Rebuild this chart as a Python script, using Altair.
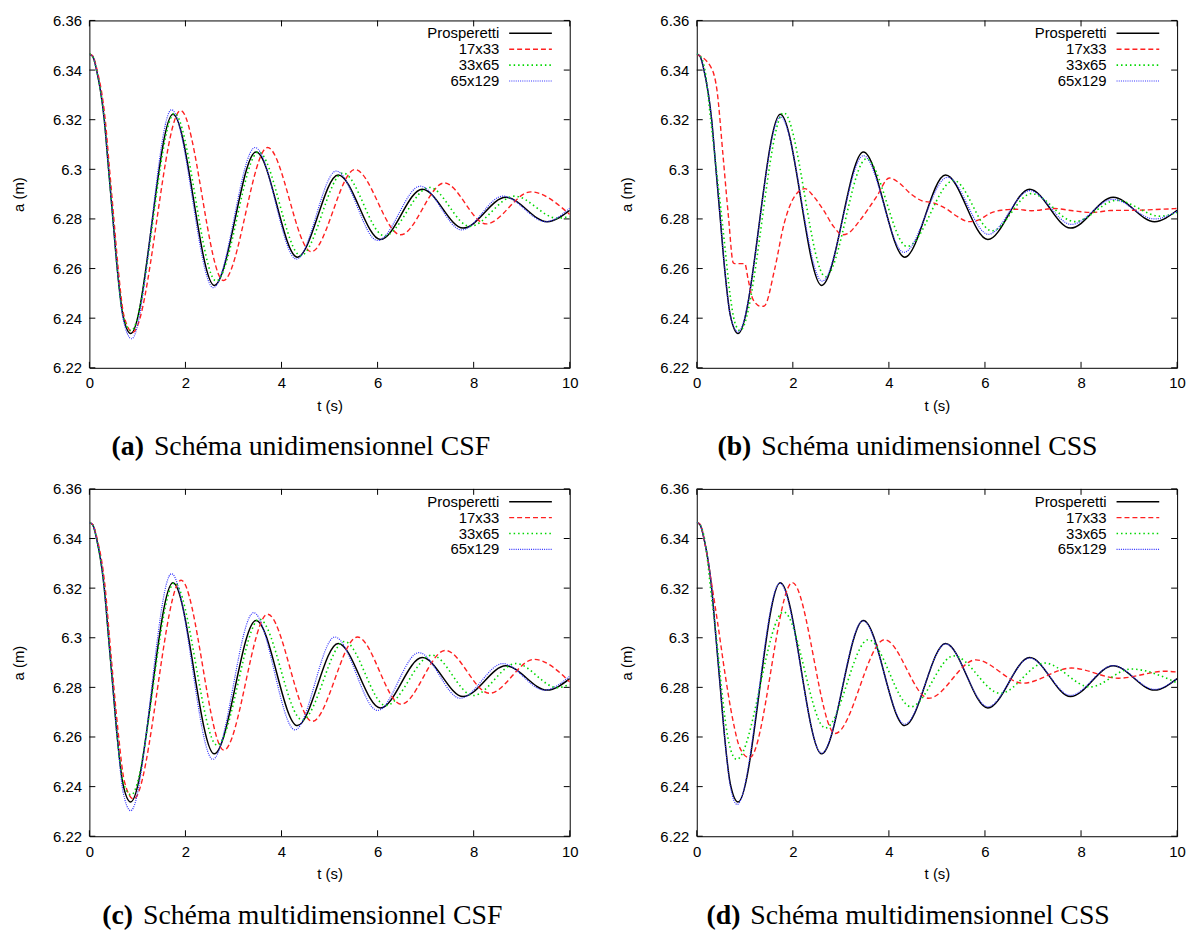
import altair as alt
import pandas as pd

# ---------------- data ----------------
SERIES = ["Prosperetti", "17x33", "33x65", "65x129"]
COLORS = ["#000000", "#ff2020", "#00d800", "#3030ff"]
DASHES = [None, [5, 3], [1.5, 3], [1, 1.2]]
WIDTHS = [1.5, 1.4, 1.6, 1.2]

X_TICKS = [0, 2, 4, 6, 8, 10]
Y_TICKS = [6.22, 6.24, 6.26, 6.28, 6.30, 6.32, 6.34, 6.36]

LABELS = ["(a)", "(b)", "(c)", "(d)"]
CAPTIONS = ["Schéma unidimensionnel CSF", "Schéma unidimensionnel CSS",
            "Schéma multidimensionnel CSF", "Schéma multidimensionnel CSS"]

# Prosperetti (analytical) - identical in all panels
PROS_T = [0, 0.07, 0.15, 0.31, 0.40, 0.49, 0.58, 0.70, 0.86, 1.74, 2.60, 3.47, 4.33, 5.18, 6.06, 6.93, 7.78, 8.67, 9.53, 10]
PROS_V = [6.3465, 6.3455, 6.340, 6.320, 6.300, 6.280, 6.260, 6.241, 6.2338, 6.3222, 6.2532, 6.3070, 6.2646, 6.2977, 6.2717, 6.2920, 6.2763, 6.2887, 6.2789, 6.2835]

# (a) unidimensionnel CSF
A_17_T = [0, 0.07, 0.16, 0.33, 0.42, 0.51, 0.60, 0.72, 0.90, 1.90, 2.79, 3.71, 4.62, 5.53, 6.48, 7.39, 8.26, 9.19, 10]
A_17_V = [6.3465, 6.3457, 6.340, 6.320, 6.300, 6.280, 6.260, 6.241, 6.2343, 6.3237, 6.2552, 6.3088, 6.2668, 6.2999, 6.2736, 6.2945, 6.2780, 6.2909, 6.2818]
A_33_T = [0, 0.07, 0.15, 0.31, 0.40, 0.49, 0.58, 0.70, 0.87, 1.77, 2.64, 3.52, 4.40, 5.28, 6.14, 7.08, 7.92, 8.85, 9.74, 10]
A_33_V = [6.3465, 6.3455, 6.340, 6.320, 6.300, 6.280, 6.260, 6.241, 6.2350, 6.3225, 6.2550, 6.3070, 6.2652, 6.2985, 6.2732, 6.2927, 6.2770, 6.2892, 6.2803, 6.2810]
A_65_T = [0, 0.07, 0.15, 0.31, 0.40, 0.49, 0.58, 0.70, 0.88, 1.71, 2.58, 3.45, 4.31, 5.14, 6.00, 6.89, 7.75, 8.61, 9.50, 10]
A_65_V = [6.3465, 6.3455, 6.340, 6.320, 6.300, 6.280, 6.260, 6.240, 6.2317, 6.3240, 6.2523, 6.3088, 6.2638, 6.2993, 6.2713, 6.2932, 6.2756, 6.2892, 6.2789, 6.2843]

# (b) unidimensionnel CSS
B_17_T = [0, 0.30, 0.42, 0.55, 0.66, 0.76, 0.79, 1.00, 1.07, 1.17, 1.34, 1.41, 1.62, 1.82, 2.03, 2.25, 2.44, 2.64, 2.85, 3.03,
          3.15, 3.40, 3.74, 4.01, 4.22, 4.45, 4.69, 4.92, 5.20, 5.43, 5.67, 5.87, 6.10, 6.34, 6.65, 6.97, 7.44, 7.83, 8.23, 8.62,
          9.09, 10]
B_17_V = [6.3463, 6.341, 6.332, 6.3048, 6.2809, 6.2623, 6.2620, 6.2620, 6.2556, 6.2476, 6.2447, 6.2450, 6.2596, 6.2782, 6.2889, 6.2922,
          6.2889, 6.2835, 6.2769, 6.2736, 6.2742, 6.2795, 6.2889, 6.2965, 6.2944, 6.2902, 6.2873, 6.2865, 6.2840, 6.2809, 6.2789, 6.2796,
          6.2822, 6.2835, 6.2839, 6.2833, 6.2842, 6.2833, 6.2826, 6.2834, 6.2835, 6.2842]
B_33_T = [0, 0.07, 0.17, 0.29, 0.39, 0.49, 0.59, 0.69, 0.79, 0.90, 1.81, 2.68, 3.53, 4.38, 5.35, 6.14, 6.97, 7.87, 8.74, 9.65, 10]
B_33_V = [6.3465, 6.3457, 6.340, 6.320, 6.303, 6.286, 6.268, 6.250, 6.2385, 6.2350, 6.3228, 6.2567, 6.3042, 6.2689, 6.2955, 6.2752, 6.2902, 6.2789, 6.2875, 6.2811, 6.2826]
B_65_T = [0, 0.07, 0.15, 0.31, 0.40, 0.49, 0.58, 0.70, 0.86, 1.74, 2.61, 3.47, 4.31, 5.22, 6.07, 6.93, 7.80, 8.66, 9.53, 10]
B_65_V = [6.3465, 6.3455, 6.340, 6.320, 6.300, 6.280, 6.260, 6.241, 6.2345, 6.3212, 6.2549, 6.3055, 6.2665, 6.2968, 6.2738, 6.2914, 6.2778, 6.2879, 6.2800, 6.2831]

# (c) multidimensionnel CSF
C_17_T = [0, 0.07, 0.16, 0.33, 0.42, 0.51, 0.61, 0.73, 0.92, 1.91, 2.80, 3.71, 4.64, 5.58, 6.49, 7.41, 8.33, 9.26, 10]
C_17_V = [6.3465, 6.3457, 6.340, 6.320, 6.300, 6.280, 6.260, 6.242, 6.2350, 6.3232, 6.2547, 6.3095, 6.2663, 6.3003, 6.2732, 6.2949, 6.2776, 6.2913, 6.2822]
C_33_T = [0, 0.07, 0.15, 0.31, 0.40, 0.49, 0.58, 0.70, 0.87, 1.77, 2.66, 3.54, 4.43, 5.31, 6.17, 7.13, 7.99, 8.88, 9.74, 10]
C_33_V = [6.3465, 6.3455, 6.340, 6.320, 6.300, 6.280, 6.260, 6.242, 6.2367, 6.3221, 6.2567, 6.3075, 6.2669, 6.2985, 6.2727, 6.2930, 6.2767, 6.2896, 6.2799, 6.2812]
C_65_T = [0, 0.07, 0.15, 0.31, 0.40, 0.49, 0.58, 0.70, 0.86, 1.71, 2.57, 3.42, 4.28, 5.11, 6.00, 6.86, 7.72, 8.61, 9.47, 10]
C_65_V = [6.3465, 6.3455, 6.340, 6.320, 6.300, 6.280, 6.260, 6.238, 6.2303, 6.3258, 6.2510, 6.3101, 6.2629, 6.3003, 6.2707, 6.2940, 6.2756, 6.2896, 6.2789, 6.2845]

# (d) multidimensionnel CSS
D_17_T = [0, 0.07, 0.18, 0.30, 0.45, 0.60, 0.75, 0.90, 1.10, 1.99, 2.88, 3.91, 4.83, 5.81, 6.79, 7.80, 8.78, 9.75, 10]
D_17_V = [6.3465, 6.3458, 6.337, 6.323, 6.304, 6.284, 6.267, 6.2555, 6.2516, 6.3222, 6.2614, 6.2992, 6.2756, 6.2911, 6.2817, 6.2878, 6.2837, 6.2865, 6.2862]
D_33_T = [0, 0.07, 0.17, 0.31, 0.42, 0.52, 0.62, 0.73, 0.83, 1.81, 2.68, 3.57, 4.46, 5.35, 6.32, 7.24, 8.19, 9.04, 10]
D_33_V = [6.3465, 6.3455, 6.339, 6.316, 6.298, 6.279, 6.263, 6.2535, 6.2510, 6.3104, 6.2636, 6.2992, 6.2722, 6.2927, 6.2776, 6.2898, 6.2802, 6.2874, 6.2818]
D_65_T = [0, 0.07, 0.15, 0.31, 0.40, 0.49, 0.58, 0.70, 0.84, 1.73, 2.60, 3.46, 4.33, 5.18, 6.06, 6.93, 7.78, 8.67, 9.53, 10]
D_65_V = [6.3465, 6.3455, 6.340, 6.320, 6.300, 6.280, 6.260, 6.240, 6.2328, 6.3220, 6.2535, 6.3068, 6.2652, 6.2975, 6.2722, 6.2918, 6.2768, 6.2888, 6.2792, 6.2835]

PANEL_DATA = [
    [(PROS_T, PROS_V), (A_17_T, A_17_V), (A_33_T, A_33_V), (A_65_T, A_65_V)],
    [(PROS_T, PROS_V), (B_17_T, B_17_V), (B_33_T, B_33_V), (B_65_T, B_65_V)],
    [(PROS_T, PROS_V), (C_17_T, C_17_V), (C_33_T, C_33_V), (C_65_T, C_65_V)],
    [(PROS_T, PROS_V), (D_17_T, D_17_V), (D_33_T, D_33_V), (D_65_T, D_65_V)],
]

# ---------------- layout / style ----------------
W, H = 484, 350
FONT = "Liberation Sans"
SERIF = "Liberation Serif"
CAP_SPLIT = [55, 55, 44, 44]
CAP_Y = 430


def make_panel(idx):
    xenc = alt.X("t:Q", scale=alt.Scale(domain=[0, 10], nice=False, zero=False),
                 axis=alt.Axis(values=X_TICKS, title="t (s)", ticks=False, tickSize=0, domain=False,
                               grid=False, labelFlush=False, labelOverlap=False, labelPadding=8,
                               titlePadding=8, format="d"))
    yenc = alt.Y("a:Q", scale=alt.Scale(domain=[6.22, 6.36], nice=False, zero=False),
                 axis=alt.Axis(values=Y_TICKS, title="a (m)", ticks=False, tickSize=0, domain=False,
                               grid=False, labelFlush=False, labelOverlap=False, labelPadding=8,
                               titlePadding=26, format=".3~g"))
    layers = []
    # inward ticks on four sides
    xt = pd.DataFrame({"t": X_TICKS})
    yt = pd.DataFrame({"a": Y_TICKS})
    layers.append(alt.Chart(xt).mark_rule(color="black", strokeWidth=1).encode(
        x=xenc, y=alt.value(H), y2=alt.value(H - 6)))
    layers.append(alt.Chart(xt).mark_rule(color="black", strokeWidth=1).encode(
        x=xenc, y=alt.value(0), y2=alt.value(6)))
    layers.append(alt.Chart(yt).mark_rule(color="black", strokeWidth=1).encode(
        y=yenc, x=alt.value(0), x2=alt.value(6)))
    layers.append(alt.Chart(yt).mark_rule(color="black", strokeWidth=1).encode(
        y=yenc, x=alt.value(W), x2=alt.value(W - 6)))

    for s_i, (name, (ts, vs)) in enumerate(zip(SERIES, PANEL_DATA[idx])):
        df = pd.DataFrame({"t": ts, "a": vs, "series": name})
        kw = dict(color=COLORS[s_i], strokeWidth=WIDTHS[s_i], interpolate="monotone", clip=True)
        if DASHES[s_i]:
            kw["strokeDash"] = DASHES[s_i]
        layers.append(alt.Chart(df).mark_line(**kw).encode(x=xenc, y=yenc))

    # legend (gnuplot style: label then line sample)
    for s_i, name in enumerate(SERIES):
        ld = pd.DataFrame({"name": [name]})
        ypos = 13 + 16 * s_i
        layers.append(alt.Chart(ld).mark_text(align="right", baseline="middle", font=FONT,
                                              fontSize=15, color="black").encode(
            x=alt.value(413), y=alt.value(ypos), text="name:N"))
        kw = dict(color=COLORS[s_i], strokeWidth=WIDTHS[s_i])
        if DASHES[s_i]:
            kw["strokeDash"] = DASHES[s_i]
        layers.append(alt.Chart(ld).mark_rule(**kw).encode(
            x=alt.value(423), x2=alt.value(466), y=alt.value(ypos)))

    # caption
    cap = pd.DataFrame({"lab": [LABELS[idx]], "cap": [CAPTIONS[idx]]})
    layers.append(alt.Chart(cap).mark_text(align="right", baseline="middle", font=SERIF,
                                           fontSize=28, fontWeight="bold", color="black").encode(
        x=alt.value(CAP_SPLIT[idx]), y=alt.value(CAP_Y), text="lab:N"))
    layers.append(alt.Chart(cap).mark_text(align="left", baseline="middle", font=SERIF,
                                           fontSize=28, color="black").encode(
        x=alt.value(CAP_SPLIT[idx] + 10), y=alt.value(CAP_Y), text="cap:N"))

    return alt.layer(*layers).properties(width=W, height=H)


panels = [make_panel(i) for i in range(4)]

chart = alt.concat(*panels, columns=2, spacing={"row": 122, "column": 128}, bounds="flush").properties(
    padding={"left": 3, "top": 1, "right": 5, "bottom": 5}
).configure_view(stroke="black", strokeWidth=1).configure_axis(
    labelFont=FONT, titleFont=FONT, labelFontSize=15, titleFontSize=15,
    labelColor="black", titleColor="black", titleFontWeight="normal"
)

chart.save("out.html", embed_options={"renderer": "svg", "actions": False})
